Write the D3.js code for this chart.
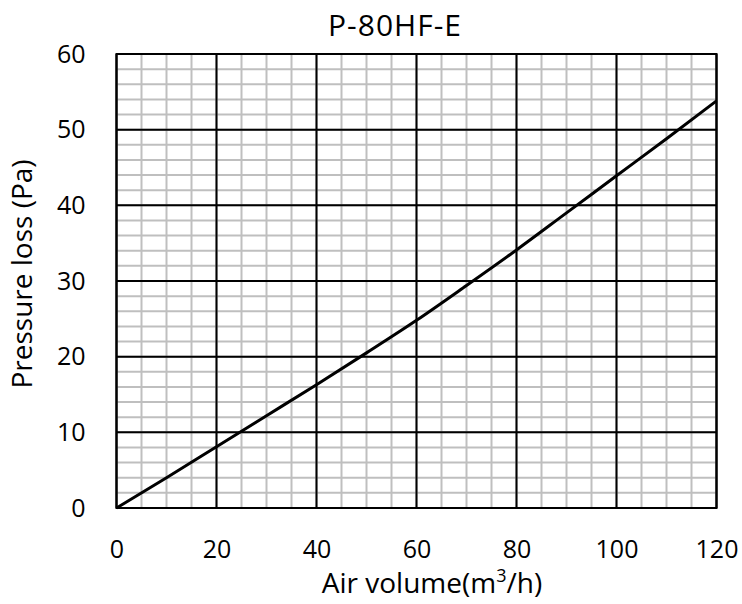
<!DOCTYPE html>
<html><head><meta charset="utf-8">
<script src="https://cdn.jsdelivr.net/npm/d3@7"></script>
<style>body{margin:0;background:#fff}svg{display:block}text{font-family:"Open Sans",sans-serif;fill:#000}</style>
</head><body><svg id="c" width="742" height="604"></svg>
<script>
const airVolume = [0,10,20,30,40,50,60,70,80,90,100,110,120];
const pressureLoss = [0,4.0,8.1,12.2,16.3,20.5,24.8,29.4,34.1,39.0,43.9,48.8,53.8];
const xTicks = [0,20,40,60,80,100,120];
const yTicks = [0,10,20,30,40,50,60];
const title = "P-80HF-E";

const svg = d3.select("#c");
const m = {l:116.5, r:716.5, t:54, b:508};
const x = d3.scaleLinear().domain([0,120]).range([m.l,m.r]);
const y = d3.scaleLinear().domain([0,60]).range([m.b,m.t]);

const g = svg.append("g");
// minor grid
g.selectAll(".vx").data(d3.range(0,121,5)).enter().append("line")
 .attr("x1",d=>x(d)).attr("x2",d=>x(d)).attr("y1",m.t).attr("y2",m.b)
 .attr("stroke","#bfbfbf").attr("stroke-width",2);
g.selectAll(".hy").data(d3.range(0,61,2)).enter().append("line")
 .attr("y1",d=>y(d)).attr("y2",d=>y(d)).attr("x1",m.l).attr("x2",m.r)
 .attr("stroke","#bfbfbf").attr("stroke-width",2);
// major grid
g.selectAll(".mx").data(xTicks).enter().append("line")
 .attr("x1",d=>x(d)).attr("x2",d=>x(d)).attr("y1",m.t).attr("y2",m.b)
 .attr("stroke","#000").attr("stroke-width",2);
g.selectAll(".my").data(yTicks).enter().append("line")
 .attr("y1",d=>y(d)).attr("y2",d=>y(d)).attr("x1",m.l).attr("x2",m.r)
 .attr("stroke","#000").attr("stroke-width",2);
g.append("rect").attr("x",m.l).attr("y",m.t).attr("width",m.r-m.l).attr("height",m.b-m.t)
 .attr("fill","none").attr("stroke","#000").attr("stroke-width",2);

// axes labels
const xa = svg.append("g").attr("transform",`translate(0,${m.b})`)
 .call(d3.axisBottom(x).tickValues(xTicks).tickSize(0).tickPadding(32).tickFormat(d3.format("d")));
xa.select(".domain").remove();
xa.attr("font-family",null).attr("font-size",null);
xa.selectAll("text").style("font-size","25px");
const ya = svg.append("g").attr("transform",`translate(${m.l},0)`)
 .call(d3.axisLeft(y).tickValues(yTicks).tickSize(0).tickPadding(31).tickFormat(d3.format("d")));
ya.select(".domain").remove();
ya.attr("font-family",null).attr("font-size",null);
ya.selectAll("text").style("font-size","25px");

// curve
const line = d3.line().x((d,i)=>x(airVolume[i])).y(d=>y(d)).curve(d3.curveMonotoneX);
svg.append("path").datum(pressureLoss).attr("d",line).attr("fill","none")
 .attr("stroke","#000").attr("stroke-width",3);

svg.append("text").attr("x",395).attr("y",36).attr("text-anchor","middle")
 .style("font-size","30px").style("letter-spacing","1px").text(title);
const xt = svg.append("text").attr("x",432).attr("y",593).attr("text-anchor","middle").style("font-size","28px");
xt.append("tspan").text("Air volume(m");
xt.append("tspan").attr("dy",-11).style("font-size","18px").text("3");
xt.append("tspan").attr("dy",11).text("/h)");
svg.append("text").attr("transform","translate(32,274) rotate(-90)").attr("text-anchor","middle")
 .style("font-size","28px").text("Pressure loss (Pa)");
</script></body></html>
